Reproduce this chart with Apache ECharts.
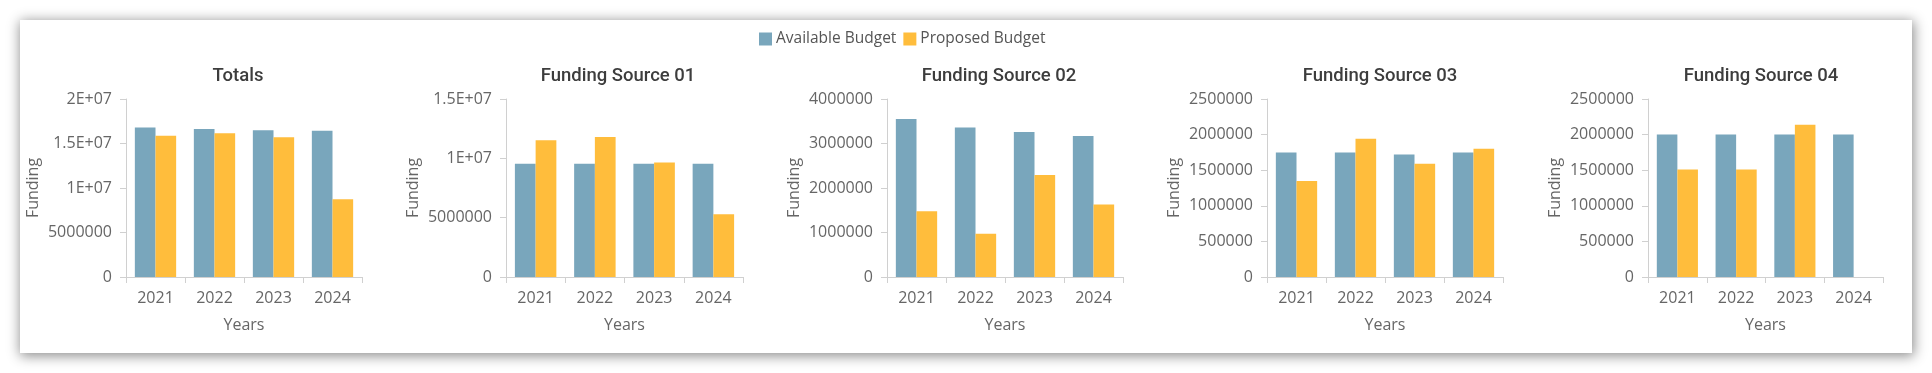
<!DOCTYPE html>
<html>
<head>
<meta charset="utf-8">
<script src="https://cdn.jsdelivr.net/npm/echarts@6/dist/echarts.min.js"></script>
<style>
  html, body { margin: 0; padding: 0; background: #fff; }
  #card { position: absolute; left: 20px; top: 20px; width: 1892px; height: 333px; background: #fff;
          box-shadow: 1px 2px 12px 1px rgba(0,0,0,0.45); }
  #chart { position: absolute; left: 0; top: 0; width: 1932px; height: 373px; }
</style>
</head>
<body>
<div id="card"></div>
<div id="chart"></div>
<script>
const years = ['2021', '2022', '2023', '2024'];
const seriesNames = ['Available Budget', 'Proposed Budget'];
const chartTitles = ['Totals', 'Funding Source 01', 'Funding Source 02', 'Funding Source 03', 'Funding Source 04'];

const totalsAvailable = [16800000, 16630000, 16480000, 16440000];
const totalsProposed  = [15880000, 16140000, 15700000, 8730000];
const fs01Available = [9540000, 9540000, 9540000, 9540000];
const fs01Proposed  = [11530000, 11790000, 9650000, 5290000];
const fs02Available = [3550000, 3360000, 3260000, 3170000];
const fs02Proposed  = [1480000, 970000, 2290000, 1630000];
const fs03Available = [1750000, 1750000, 1720000, 1750000];
const fs03Proposed  = [1350000, 1940000, 1590000, 1800000];
const fs04Available = [2000000, 2000000, 2000000, 2000000];
const fs04Proposed  = [1510000, 1510000, 2140000, 0];

const yMax = [20000000, 15000000, 4000000, 2500000, 2500000];
const yInterval = [5000000, 5000000, 1000000, 500000, 500000];

const availableSets = [totalsAvailable, fs01Available, fs02Available, fs03Available, fs04Available];
const proposedSets = [totalsProposed, fs01Proposed, fs02Proposed, fs03Proposed, fs04Proposed];

// layout (pixels)
const gridLefts = [126, 506, 887, 1267, 1648];
const gridWidths = [236, 237, 236, 236, 235];
const titleCenters = [233, 613, 994, 1375, 1756];

const colors = ['#79a6bc', '#ffbd3c'];
const labelFont = 'Open Sans';

function fmt(v) {
  if (v >= 10000000) {
    const s = v.toExponential(); // e.g. 1.5e+7
    const parts = s.split('e');
    let exp = parseInt(parts[1], 10);
    const sign = exp < 0 ? '-' : '+';
    exp = Math.abs(exp);
    return parts[0] + 'E' + sign + (exp < 10 ? '0' + exp : exp);
  }
  return String(v);
}

const grid = [], xAxis = [], yAxis = [], series = [], title = [];
for (let i = 0; i < 5; i++) {
  grid.push({ left: gridLefts[i], top: 99, width: gridWidths[i], height: 178 });
  title.push({
    text: chartTitles[i], left: titleCenters[i], top: 62, textAlign: 'center',
    textStyle: { fontFamily: 'Roboto', fontSize: 18.5, fontWeight: 500, color: '#3d3d3d' }
  });
  xAxis.push({
    type: 'category', gridIndex: i, data: years,
    name: 'Years', nameLocation: 'middle', nameGap: 40,
    nameTextStyle: { fontFamily: labelFont, fontSize: 16, color: '#666' },
    axisLine: { lineStyle: { color: '#d0d0d0' } },
    axisTick: { show: true, length: 6, lineStyle: { color: '#d0d0d0' } },
    axisLabel: { fontFamily: labelFont, fontSize: 16, color: '#666', margin: 13 }
  });
  yAxis.push({
    type: 'value', gridIndex: i, min: 0, max: yMax[i], interval: yInterval[i],
    name: 'Funding', nameLocation: 'middle', nameGap: 85,
    nameTextStyle: { fontFamily: labelFont, fontSize: 16, color: '#666' },
    axisLine: { show: true, lineStyle: { color: '#d0d0d0' } },
    axisTick: { show: true, length: 6, lineStyle: { color: '#d0d0d0' } },
    splitLine: { show: false },
    axisLabel: { fontFamily: labelFont, fontSize: 16, color: '#666', margin: 14, formatter: fmt }
  });
  series.push({
    name: seriesNames[0], type: 'bar', xAxisIndex: i, yAxisIndex: i,
    data: availableSets[i], barGap: '0%', barCategoryGap: '30%',
    itemStyle: { color: colors[0] }
  });
  series.push({
    name: seriesNames[1], type: 'bar', xAxisIndex: i, yAxisIndex: i,
    data: proposedSets[i], barGap: '0%', barCategoryGap: '30%',
    itemStyle: { color: colors[1] }
  });
}

const chart = echarts.init(document.getElementById('chart'), null, { renderer: 'canvas' });
chart.setOption({
  animation: false,
  backgroundColor: 'transparent',
  color: colors,
  title: title,
  legend: {
    data: seriesNames, left: 754, top: 26, icon: 'rect', itemWidth: 13, itemHeight: 13, itemGap: 7,
    textStyle: { fontFamily: labelFont, fontSize: 15.5, color: '#555', padding: [0, 0, 0, -1] }
  },
  grid: grid, xAxis: xAxis, yAxis: yAxis, series: series
});
</script>
</body>
</html>
